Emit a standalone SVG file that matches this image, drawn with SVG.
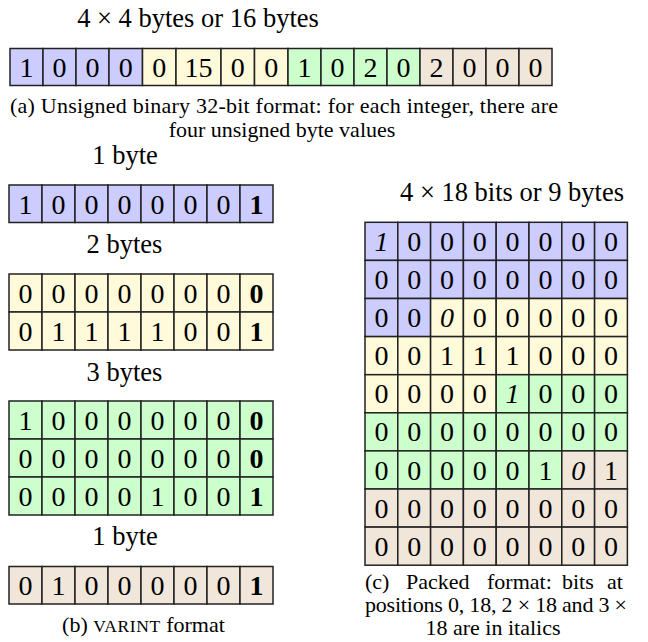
<svg xmlns="http://www.w3.org/2000/svg" width="648" height="642" viewBox="0 0 648 642">
<style>
text{font-family:"Liberation Serif","Times New Roman",serif;fill:#000}
.c{stroke:#222;stroke-width:1.5}
.B{fill:#ccccff}.Y{fill:#fffad9}.G{fill:#ccffcc}.T{fill:#f1e6da}
.d{font-size:28px;text-anchor:middle}
.h{font-size:26.5px;text-anchor:middle}
.cap{font-size:22px}
.bd{font-weight:bold}
.it{font-style:italic}
</style>
<rect width="648" height="642" fill="#fff"/>

<g id="formatA">
<text class="h" x="198" y="27">4 × 4 bytes or 16 bytes</text>
<g id="rowA">
<rect class="c B" x="10" y="48.5" width="33" height="37"/>
<rect class="c B" x="43" y="48.5" width="33" height="37"/>
<rect class="c B" x="76" y="48.5" width="33" height="37"/>
<rect class="c B" x="109" y="48.5" width="33.5" height="37"/>
<rect class="c Y" x="142.5" y="48.5" width="33.5" height="37"/>
<rect class="c Y" x="176" y="48.5" width="45" height="37"/>
<rect class="c Y" x="221" y="48.5" width="33.5" height="37"/>
<rect class="c Y" x="254.5" y="48.5" width="33.5" height="37"/>
<rect class="c G" x="288" y="48.5" width="33" height="37"/>
<rect class="c G" x="321" y="48.5" width="33" height="37"/>
<rect class="c G" x="354" y="48.5" width="33" height="37"/>
<rect class="c G" x="387" y="48.5" width="33" height="37"/>
<rect class="c T" x="420" y="48.5" width="33" height="37"/>
<rect class="c T" x="453" y="48.5" width="33" height="37"/>
<rect class="c T" x="486" y="48.5" width="33" height="37"/>
<rect class="c T" x="519" y="48.5" width="33" height="37"/>
<text class="d" y="76.5"><tspan x="26.5">1</tspan><tspan x="59.5">0</tspan><tspan x="92.5">0</tspan><tspan x="125.75">0</tspan><tspan x="159.25">0</tspan><tspan x="198.5">15</tspan><tspan x="237.75">0</tspan><tspan x="271.25">0</tspan><tspan x="304.5">1</tspan><tspan x="337.5">0</tspan><tspan x="370.5">2</tspan><tspan x="403.5">0</tspan><tspan x="436.5">2</tspan><tspan x="469.5">0</tspan><tspan x="502.5">0</tspan><tspan x="535.5">0</tspan></text>
</g>
<text class="cap" x="10" y="113" textLength="548" lengthAdjust="spacing">(a) Unsigned binary 32-bit format: for each integer, there are</text>
<text class="cap" x="282" y="137" text-anchor="middle">four unsigned byte values</text>
</g>

<g id="formatB">
<text class="h" x="125" y="164">1 byte</text>
<g id="varint1">
<rect class="c B" x="9" y="185" width="33" height="37.5"/>
<rect class="c B" x="42" y="185" width="33" height="37.5"/>
<rect class="c B" x="75" y="185" width="33" height="37.5"/>
<rect class="c B" x="108" y="185" width="33" height="37.5"/>
<rect class="c B" x="141" y="185" width="33" height="37.5"/>
<rect class="c B" x="174" y="185" width="33" height="37.5"/>
<rect class="c B" x="207" y="185" width="33" height="37.5"/>
<rect class="c B" x="240" y="185" width="33" height="37.5"/>
<text class="d" y="213.5"><tspan x="25.5">1</tspan><tspan x="58.5">0</tspan><tspan x="91.5">0</tspan><tspan x="124.5">0</tspan><tspan x="157.5">0</tspan><tspan x="190.5">0</tspan><tspan x="223.5">0</tspan><tspan x="256.5" class="bd">1</tspan></text>
</g>

<text class="h" x="124.5" y="253">2 bytes</text>
<g id="varint2">
<rect class="c Y" x="9" y="274" width="33" height="38"/>
<rect class="c Y" x="42" y="274" width="33" height="38"/>
<rect class="c Y" x="75" y="274" width="33" height="38"/>
<rect class="c Y" x="108" y="274" width="33" height="38"/>
<rect class="c Y" x="141" y="274" width="33" height="38"/>
<rect class="c Y" x="174" y="274" width="33" height="38"/>
<rect class="c Y" x="207" y="274" width="33" height="38"/>
<rect class="c Y" x="240" y="274" width="33" height="38"/>
<rect class="c Y" x="9" y="312" width="33" height="38"/>
<rect class="c Y" x="42" y="312" width="33" height="38"/>
<rect class="c Y" x="75" y="312" width="33" height="38"/>
<rect class="c Y" x="108" y="312" width="33" height="38"/>
<rect class="c Y" x="141" y="312" width="33" height="38"/>
<rect class="c Y" x="174" y="312" width="33" height="38"/>
<rect class="c Y" x="207" y="312" width="33" height="38"/>
<rect class="c Y" x="240" y="312" width="33" height="38"/>
<text class="d" y="302.5"><tspan x="25.5">0</tspan><tspan x="58.5">0</tspan><tspan x="91.5">0</tspan><tspan x="124.5">0</tspan><tspan x="157.5">0</tspan><tspan x="190.5">0</tspan><tspan x="223.5">0</tspan><tspan x="256.5" class="bd">0</tspan></text>
<text class="d" y="340.5"><tspan x="25.5">0</tspan><tspan x="58.5">1</tspan><tspan x="91.5">1</tspan><tspan x="124.5">1</tspan><tspan x="157.5">1</tspan><tspan x="190.5">0</tspan><tspan x="223.5">0</tspan><tspan x="256.5" class="bd">1</tspan></text>
</g>

<text class="h" x="124.5" y="381">3 bytes</text>
<g id="varint3">
<rect class="c G" x="9" y="401" width="33" height="38"/>
<rect class="c G" x="42" y="401" width="33" height="38"/>
<rect class="c G" x="75" y="401" width="33" height="38"/>
<rect class="c G" x="108" y="401" width="33" height="38"/>
<rect class="c G" x="141" y="401" width="33" height="38"/>
<rect class="c G" x="174" y="401" width="33" height="38"/>
<rect class="c G" x="207" y="401" width="33" height="38"/>
<rect class="c G" x="240" y="401" width="33" height="38"/>
<rect class="c G" x="9" y="439" width="33" height="38"/>
<rect class="c G" x="42" y="439" width="33" height="38"/>
<rect class="c G" x="75" y="439" width="33" height="38"/>
<rect class="c G" x="108" y="439" width="33" height="38"/>
<rect class="c G" x="141" y="439" width="33" height="38"/>
<rect class="c G" x="174" y="439" width="33" height="38"/>
<rect class="c G" x="207" y="439" width="33" height="38"/>
<rect class="c G" x="240" y="439" width="33" height="38"/>
<rect class="c G" x="9" y="477" width="33" height="38"/>
<rect class="c G" x="42" y="477" width="33" height="38"/>
<rect class="c G" x="75" y="477" width="33" height="38"/>
<rect class="c G" x="108" y="477" width="33" height="38"/>
<rect class="c G" x="141" y="477" width="33" height="38"/>
<rect class="c G" x="174" y="477" width="33" height="38"/>
<rect class="c G" x="207" y="477" width="33" height="38"/>
<rect class="c G" x="240" y="477" width="33" height="38"/>
<text class="d" y="429.5"><tspan x="25.5">1</tspan><tspan x="58.5">0</tspan><tspan x="91.5">0</tspan><tspan x="124.5">0</tspan><tspan x="157.5">0</tspan><tspan x="190.5">0</tspan><tspan x="223.5">0</tspan><tspan x="256.5" class="bd">0</tspan></text>
<text class="d" y="467.5"><tspan x="25.5">0</tspan><tspan x="58.5">0</tspan><tspan x="91.5">0</tspan><tspan x="124.5">0</tspan><tspan x="157.5">0</tspan><tspan x="190.5">0</tspan><tspan x="223.5">0</tspan><tspan x="256.5" class="bd">0</tspan></text>
<text class="d" y="505.5"><tspan x="25.5">0</tspan><tspan x="58.5">0</tspan><tspan x="91.5">0</tspan><tspan x="124.5">0</tspan><tspan x="157.5">1</tspan><tspan x="190.5">0</tspan><tspan x="223.5">0</tspan><tspan x="256.5" class="bd">1</tspan></text>
</g>

<text class="h" x="125" y="545">1 byte</text>
<g id="varint4">
<rect class="c T" x="9" y="566.5" width="33" height="37.5"/>
<rect class="c T" x="42" y="566.5" width="33" height="37.5"/>
<rect class="c T" x="75" y="566.5" width="33" height="37.5"/>
<rect class="c T" x="108" y="566.5" width="33" height="37.5"/>
<rect class="c T" x="141" y="566.5" width="33" height="37.5"/>
<rect class="c T" x="174" y="566.5" width="33" height="37.5"/>
<rect class="c T" x="207" y="566.5" width="33" height="37.5"/>
<rect class="c T" x="240" y="566.5" width="33" height="37.5"/>
<text class="d" y="595"><tspan x="25.5">0</tspan><tspan x="58.5">1</tspan><tspan x="91.5">0</tspan><tspan x="124.5">0</tspan><tspan x="157.5">0</tspan><tspan x="190.5">0</tspan><tspan x="223.5">0</tspan><tspan x="256.5" class="bd">1</tspan></text>
</g>
<text class="cap" x="143.5" y="632" text-anchor="middle">(b) <tspan font-size="17.5" letter-spacing="0.6">VARINT</tspan> format</text>
</g>

<g id="formatC">
<text class="h" x="512" y="201">4 × 18 bits or 9 bytes</text>
<g id="packed">
<rect class="c B" x="365" y="222.3" width="32.8" height="38.1"/>
<rect class="c B" x="397.8" y="222.3" width="32.8" height="38.1"/>
<rect class="c B" x="430.6" y="222.3" width="32.8" height="38.1"/>
<rect class="c B" x="463.4" y="222.3" width="32.8" height="38.1"/>
<rect class="c B" x="496.2" y="222.3" width="32.8" height="38.1"/>
<rect class="c B" x="529" y="222.3" width="32.8" height="38.1"/>
<rect class="c B" x="561.8" y="222.3" width="32.8" height="38.1"/>
<rect class="c B" x="594.6" y="222.3" width="32.8" height="38.1"/>
<rect class="c B" x="365" y="260.4" width="32.8" height="38.1"/>
<rect class="c B" x="397.8" y="260.4" width="32.8" height="38.1"/>
<rect class="c B" x="430.6" y="260.4" width="32.8" height="38.1"/>
<rect class="c B" x="463.4" y="260.4" width="32.8" height="38.1"/>
<rect class="c B" x="496.2" y="260.4" width="32.8" height="38.1"/>
<rect class="c B" x="529" y="260.4" width="32.8" height="38.1"/>
<rect class="c B" x="561.8" y="260.4" width="32.8" height="38.1"/>
<rect class="c B" x="594.6" y="260.4" width="32.8" height="38.1"/>
<rect class="c B" x="365" y="298.5" width="32.8" height="38.1"/>
<rect class="c B" x="397.8" y="298.5" width="32.8" height="38.1"/>
<rect class="c Y" x="430.6" y="298.5" width="32.8" height="38.1"/>
<rect class="c Y" x="463.4" y="298.5" width="32.8" height="38.1"/>
<rect class="c Y" x="496.2" y="298.5" width="32.8" height="38.1"/>
<rect class="c Y" x="529" y="298.5" width="32.8" height="38.1"/>
<rect class="c Y" x="561.8" y="298.5" width="32.8" height="38.1"/>
<rect class="c Y" x="594.6" y="298.5" width="32.8" height="38.1"/>
<rect class="c Y" x="365" y="336.6" width="32.8" height="38.1"/>
<rect class="c Y" x="397.8" y="336.6" width="32.8" height="38.1"/>
<rect class="c Y" x="430.6" y="336.6" width="32.8" height="38.1"/>
<rect class="c Y" x="463.4" y="336.6" width="32.8" height="38.1"/>
<rect class="c Y" x="496.2" y="336.6" width="32.8" height="38.1"/>
<rect class="c Y" x="529" y="336.6" width="32.8" height="38.1"/>
<rect class="c Y" x="561.8" y="336.6" width="32.8" height="38.1"/>
<rect class="c Y" x="594.6" y="336.6" width="32.8" height="38.1"/>
<rect class="c Y" x="365" y="374.7" width="32.8" height="38.1"/>
<rect class="c Y" x="397.8" y="374.7" width="32.8" height="38.1"/>
<rect class="c Y" x="430.6" y="374.7" width="32.8" height="38.1"/>
<rect class="c Y" x="463.4" y="374.7" width="32.8" height="38.1"/>
<rect class="c G" x="496.2" y="374.7" width="32.8" height="38.1"/>
<rect class="c G" x="529" y="374.7" width="32.8" height="38.1"/>
<rect class="c G" x="561.8" y="374.7" width="32.8" height="38.1"/>
<rect class="c G" x="594.6" y="374.7" width="32.8" height="38.1"/>
<rect class="c G" x="365" y="412.8" width="32.8" height="38.1"/>
<rect class="c G" x="397.8" y="412.8" width="32.8" height="38.1"/>
<rect class="c G" x="430.6" y="412.8" width="32.8" height="38.1"/>
<rect class="c G" x="463.4" y="412.8" width="32.8" height="38.1"/>
<rect class="c G" x="496.2" y="412.8" width="32.8" height="38.1"/>
<rect class="c G" x="529" y="412.8" width="32.8" height="38.1"/>
<rect class="c G" x="561.8" y="412.8" width="32.8" height="38.1"/>
<rect class="c G" x="594.6" y="412.8" width="32.8" height="38.1"/>
<rect class="c G" x="365" y="450.9" width="32.8" height="38.1"/>
<rect class="c G" x="397.8" y="450.9" width="32.8" height="38.1"/>
<rect class="c G" x="430.6" y="450.9" width="32.8" height="38.1"/>
<rect class="c G" x="463.4" y="450.9" width="32.8" height="38.1"/>
<rect class="c G" x="496.2" y="450.9" width="32.8" height="38.1"/>
<rect class="c G" x="529" y="450.9" width="32.8" height="38.1"/>
<rect class="c T" x="561.8" y="450.9" width="32.8" height="38.1"/>
<rect class="c T" x="594.6" y="450.9" width="32.8" height="38.1"/>
<rect class="c T" x="365" y="489" width="32.8" height="38.1"/>
<rect class="c T" x="397.8" y="489" width="32.8" height="38.1"/>
<rect class="c T" x="430.6" y="489" width="32.8" height="38.1"/>
<rect class="c T" x="463.4" y="489" width="32.8" height="38.1"/>
<rect class="c T" x="496.2" y="489" width="32.8" height="38.1"/>
<rect class="c T" x="529" y="489" width="32.8" height="38.1"/>
<rect class="c T" x="561.8" y="489" width="32.8" height="38.1"/>
<rect class="c T" x="594.6" y="489" width="32.8" height="38.1"/>
<rect class="c T" x="365" y="527.1" width="32.8" height="38.1"/>
<rect class="c T" x="397.8" y="527.1" width="32.8" height="38.1"/>
<rect class="c T" x="430.6" y="527.1" width="32.8" height="38.1"/>
<rect class="c T" x="463.4" y="527.1" width="32.8" height="38.1"/>
<rect class="c T" x="496.2" y="527.1" width="32.8" height="38.1"/>
<rect class="c T" x="529" y="527.1" width="32.8" height="38.1"/>
<rect class="c T" x="561.8" y="527.1" width="32.8" height="38.1"/>
<rect class="c T" x="594.6" y="527.1" width="32.8" height="38.1"/>
<text class="d" y="250.9"><tspan x="381.4" class="it">1</tspan><tspan x="414.2">0</tspan><tspan x="447">0</tspan><tspan x="479.8">0</tspan><tspan x="512.6">0</tspan><tspan x="545.4">0</tspan><tspan x="578.2">0</tspan><tspan x="611">0</tspan></text>
<text class="d" y="289"><tspan x="381.4">0</tspan><tspan x="414.2">0</tspan><tspan x="447">0</tspan><tspan x="479.8">0</tspan><tspan x="512.6">0</tspan><tspan x="545.4">0</tspan><tspan x="578.2">0</tspan><tspan x="611">0</tspan></text>
<text class="d" y="327.1"><tspan x="381.4">0</tspan><tspan x="414.2">0</tspan><tspan x="447" class="it">0</tspan><tspan x="479.8">0</tspan><tspan x="512.6">0</tspan><tspan x="545.4">0</tspan><tspan x="578.2">0</tspan><tspan x="611">0</tspan></text>
<text class="d" y="365.2"><tspan x="381.4">0</tspan><tspan x="414.2">0</tspan><tspan x="447">1</tspan><tspan x="479.8">1</tspan><tspan x="512.6">1</tspan><tspan x="545.4">0</tspan><tspan x="578.2">0</tspan><tspan x="611">0</tspan></text>
<text class="d" y="403.3"><tspan x="381.4">0</tspan><tspan x="414.2">0</tspan><tspan x="447">0</tspan><tspan x="479.8">0</tspan><tspan x="512.6" class="it">1</tspan><tspan x="545.4">0</tspan><tspan x="578.2">0</tspan><tspan x="611">0</tspan></text>
<text class="d" y="441.4"><tspan x="381.4">0</tspan><tspan x="414.2">0</tspan><tspan x="447">0</tspan><tspan x="479.8">0</tspan><tspan x="512.6">0</tspan><tspan x="545.4">0</tspan><tspan x="578.2">0</tspan><tspan x="611">0</tspan></text>
<text class="d" y="479.5"><tspan x="381.4">0</tspan><tspan x="414.2">0</tspan><tspan x="447">0</tspan><tspan x="479.8">0</tspan><tspan x="512.6">0</tspan><tspan x="545.4">1</tspan><tspan x="578.2" class="it">0</tspan><tspan x="611">1</tspan></text>
<text class="d" y="517.6"><tspan x="381.4">0</tspan><tspan x="414.2">0</tspan><tspan x="447">0</tspan><tspan x="479.8">0</tspan><tspan x="512.6">0</tspan><tspan x="545.4">0</tspan><tspan x="578.2">0</tspan><tspan x="611">0</tspan></text>
<text class="d" y="555.7"><tspan x="381.4">0</tspan><tspan x="414.2">0</tspan><tspan x="447">0</tspan><tspan x="479.8">0</tspan><tspan x="512.6">0</tspan><tspan x="545.4">0</tspan><tspan x="578.2">0</tspan><tspan x="611">0</tspan></text>
</g>
<text class="cap" y="589"><tspan x="365">(c)</tspan><tspan x="406">Packed</tspan><tspan x="487">format:</tspan><tspan x="562">bits</tspan><tspan x="607">at</tspan></text>
<text class="cap" x="365" y="612" textLength="262" lengthAdjust="spacing">positions 0, 18, 2 × 18 and 3 ×</text>
<text class="cap" x="493" y="635" text-anchor="middle">18 are in italics</text>
</g>
</svg>
